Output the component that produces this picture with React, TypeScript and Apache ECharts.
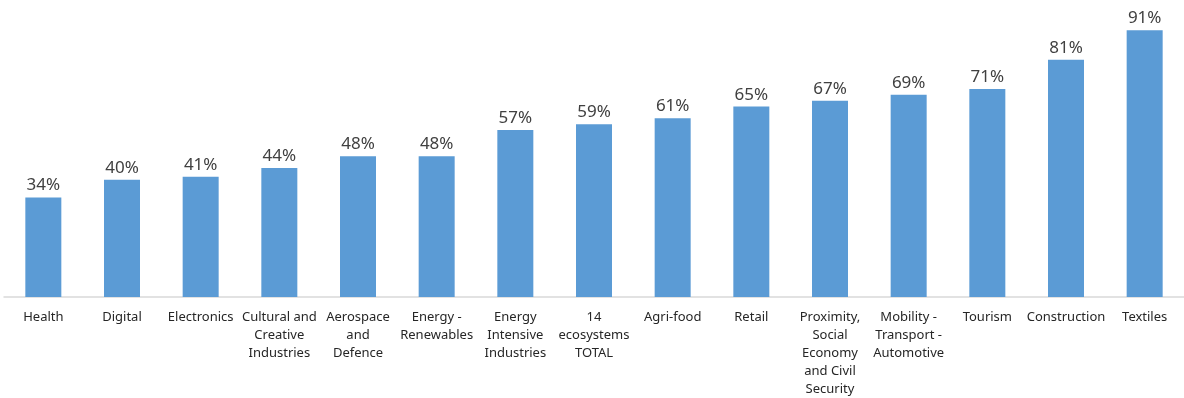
import React, { useEffect, useRef } from "react";
import * as echarts from "echarts";

const categories = [
  "Health",
  "Digital",
  "Electronics",
  "Cultural and\nCreative\nIndustries",
  "Aerospace\nand\nDefence",
  "Energy -\nRenewables",
  "Energy\nIntensive\nIndustries",
  "14\necosystems\nTOTAL",
  "Agri-food",
  "Retail",
  "Proximity,\nSocial\nEconomy\nand Civil\nSecurity",
  "Mobility -\nTransport -\nAutomotive",
  "Tourism",
  "Construction",
  "Textiles",
];
const values = [34, 40, 41, 44, 48, 48, 57, 59, 61, 65, 67, 69, 71, 81, 91];

export default function App() {
  const ref = useRef<HTMLDivElement>(null);
  useEffect(() => {
    const chart = echarts.init(ref.current!, null, { renderer: "svg" });
    chart.setOption({
      animation: false,
      grid: { left: 4, right: 0, top: 4, bottom: 101 },
      xAxis: {
        type: "category",
        data: categories,
        axisTick: { show: false },
        axisLine: { lineStyle: { color: "#d9d9d9", width: 1.5 } },
        axisLabel: {
          interval: 0,
          color: "#262626",
          fontFamily: "Noto Sans",
          fontSize: 13,
          lineHeight: 18,
          margin: 10,
        },
      },
      yAxis: {
        type: "value",
        min: 0,
        max: 100,
        show: false,
        splitLine: { show: false },
      },
      series: [
        {
          type: "bar",
          data: values,
          barWidth: 36,
          itemStyle: { color: "#5B9BD5" },
          label: {
            show: true,
            position: "top",
            distance: 5,
            formatter: "{c}%",
            color: "#404040",
            fontFamily: "Noto Sans",
            fontSize: 17,
          },
        },
      ],
    });
    return () => chart.dispose();
  }, []);
  return (
    <div
      ref={ref}
      style={{ position: "fixed", left: 0, top: 0, width: 1184, height: 398 }}
    />
  );
}
